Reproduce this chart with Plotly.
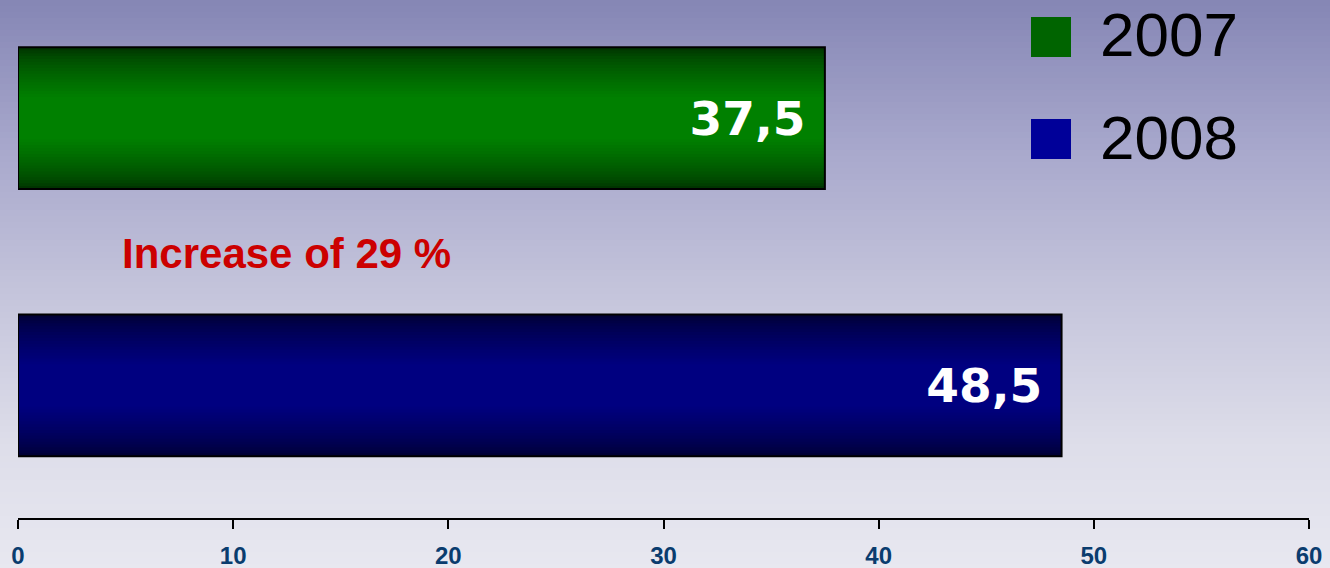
import plotly.graph_objects as go
import numpy as np

# ---- data ----
years = ["2007", "2008"]
values = [37.5, 48.5]
bar_colors = ["#008000", "#000080"]
xticks = [0, 10, 20, 30, 40, 50, 60]
note_text = "Increase of 29 %"

# ---- layout geometry (pixels) ----
W, H = 1330, 568
ML, MR, MT, MB = 18, 21, 0, 50
PW, PH = W - ML - MR, H - MT - MB

def px_x(px):
    return (px - ML) / PW

def px_y(py):
    return (H - MB - py) / PH

BW = 0.53  # bar thickness in category units

bright = {"#008000": (0, 128, 0), "#000080": (0, 0, 128)}
dark = {"#008000": (0, 52, 0), "#000080": (0, 0, 52)}

def mix(a, b, t):
    return "rgb(%d,%d,%d)" % tuple(round(a[i] + (b[i] - a[i]) * t) for i in range(3))

fig = go.Figure()

N = 18
for k in range(N):
    f = 1 - k * (1 - 0.3) / (N - 1)
    t = ((1 - f) / (1 - 0.3)) ** 0.7
    cols = [mix(dark[c], bright[c], t) for c in bar_colors]
    fig.add_trace(go.Bar(
        y=years, x=values, orientation="h",
        width=[BW * f] * len(years),
        marker=dict(color=cols, line=dict(width=0)),
        showlegend=False, hoverinfo="skip",
    ))

# outline + value labels on top
labels = [("%.1f" % v).replace(".", ",") + "\u00a0" for v in values]
fig.add_trace(go.Bar(
    y=years, x=values, orientation="h",
    width=[BW] * len(years),
    marker=dict(color="rgba(0,0,0,0)", line=dict(color="black", width=2)),
    text=labels, textposition="inside", insidetextanchor="end",
    textangle=0, constraintext="none",
    insidetextfont=dict(family="DejaVu Sans", size=47, color="white", weight="bold"),
    showlegend=False, hoverinfo="skip",
))

annotations = []
annotations.append(dict(
    x=px_x(120), y=px_y(253), xref="paper", yref="paper",
    xanchor="left", yanchor="middle", text=note_text, showarrow=False,
    font=dict(family="Liberation Sans", size=42, color="#cc0000", weight="bold"),
))

shapes = []
# background gradient
anchors_px = [0, 150, 300, 450, 568]
anchors_col = [(133, 134, 181), (168, 168, 204), (198, 198, 220), (222, 222, 234), (232, 232, 240)]
step = 6
for py in range(0, H, step):
    c = tuple(np.interp(py + step / 2, anchors_px, [a[i] for a in anchors_col]) for i in range(3))
    shapes.append(dict(
        type="rect", xref="paper", yref="paper",
        x0=px_x(0), x1=px_x(W), y0=px_y(py + step + 0.5), y1=px_y(py),
        fillcolor="rgb(%d,%d,%d)" % tuple(round(v) for v in c),
        line=dict(width=0), layer="below",
    ))

# manual legend
leg_tops = [17, 119]
for yr, c, top in zip(years, bar_colors, leg_tops):
    shapes.append(dict(
        type="rect", xref="paper", yref="paper",
        x0=px_x(1031), x1=px_x(1071), y0=px_y(top + 40), y1=px_y(top),
        fillcolor={"#008000": "#006400", "#000080": "#000099"}[c],
        line=dict(width=0), layer="above",
    ))
    annotations.append(dict(
        x=px_x(1098), y=px_y(top + 18), xref="paper", yref="paper",
        xanchor="left", yanchor="middle", text=yr, showarrow=False,
        font=dict(family="Liberation Sans", size=62, color="black"),
    ))

fig.update_layout(
    width=W, height=H,
    margin=dict(l=ML, r=MR, t=MT, b=MB, autoexpand=False),
    barmode="overlay",
    paper_bgcolor="rgb(232,232,240)",
    plot_bgcolor="rgba(0,0,0,0)",
    showlegend=False,
    shapes=shapes,
    annotations=annotations,
    xaxis=dict(
        range=[0, 60], tickvals=xticks, ticktext=[str(t) for t in xticks],
        ticks="outside", ticklen=9, tickwidth=2, tickcolor="black",
        showline=True, linewidth=2, linecolor="black",
        showgrid=False, zeroline=False, automargin=False,
        tickfont=dict(family="Liberation Sans", size=24, color="#0a3c6e", weight="bold"),
        ticklabelstandoff=6,
    ),
    yaxis=dict(
        type="category", categoryorder="array", categoryarray=["2008", "2007"],
        range=[-0.496, 1.442], visible=False, showgrid=False, zeroline=False,
    ),
)

fig.write_html("out.html", config={"displayModeBar": False},
               post_script="document.body.style.margin='0';document.body.style.overflow='hidden';")
